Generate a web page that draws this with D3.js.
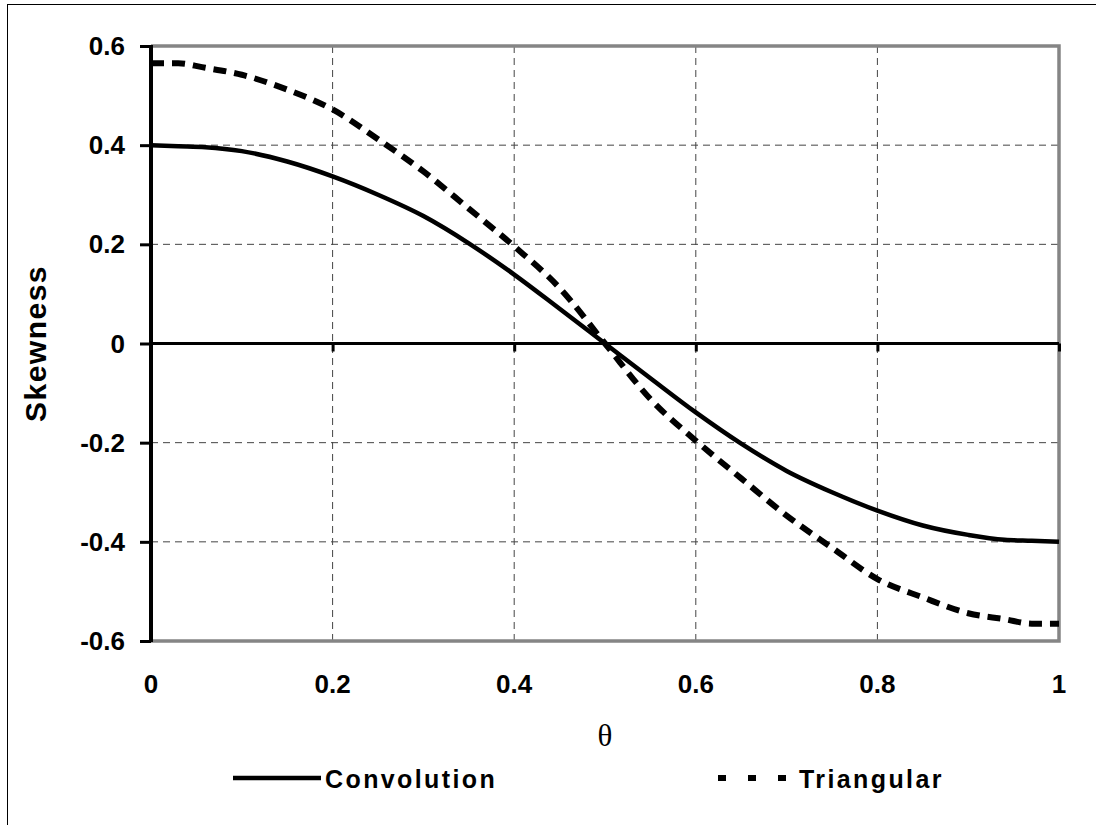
<!DOCTYPE html>
<html>
<head>
<meta charset="utf-8">
<script src="https://cdn.jsdelivr.net/npm/d3@7"></script>
<style>
  body { margin: 0; background: #fff; }
  svg { display: block; }
  .tick-label { font-family: "Liberation Sans", Arial, sans-serif; font-weight: bold; font-size: 26px; fill: #000; }
  .legend-label { font-family: "Liberation Sans", Arial, sans-serif; font-weight: bold; font-size: 25px; letter-spacing: 2.4px; fill: #000; }
</style>
</head>
<body>
<div id="chart"></div>
<script>
// values
const theta = [0, 0.03, 0.06, 0.1, 0.15, 0.2, 0.25, 0.3, 0.35, 0.4, 0.45, 0.5,
               0.55, 0.6, 0.65, 0.7, 0.75, 0.8, 0.85, 0.9, 0.94, 0.97, 1]
const convolution = [0.400, 0.398, 0.396, 0.388, 0.367, 0.337, 0.300, 0.257, 0.202, 0.139, 0.070, 0.000,
                     -0.070, -0.139, -0.202, -0.257, -0.300, -0.337, -0.367, -0.386, -0.396, -0.398, -0.400]
const triangular = [0.565, 0.565, 0.556, 0.542, 0.512, 0.472, 0.412, 0.347, 0.272, 0.196, 0.112, 0.000,
                    -0.112, -0.196, -0.272, -0.347, -0.412, -0.475, -0.512, -0.544, -0.556, -0.565, -0.565]
const xTicks = [0, 0.2, 0.4, 0.6, 0.8, 1]
const yTicks = [0.6, 0.4, 0.2, 0, -0.2, -0.4, -0.6]
const xTickLabels = ['0', '0.2', '0.4', '0.6', '0.8', '1']
const yTickLabels = ['0.6', '0.4', '0.2', '0', '-0.2', '-0.4', '-0.6']
const seriesNames = ['Convolution', 'Triangular']

const width = 1096, height = 825
const margin = {top: 46, right: 37, bottom: 184, left: 151}
const chartWidth = width - margin.left - margin.right
const chartHeight = height - margin.top - margin.bottom

const svg = d3.select('#chart').append('svg')
    .attr('width', width)
    .attr('height', height)

// outer frame
svg.append('rect')
    .attr('x', 7.5).attr('y', 4.5)
    .attr('width', 1100).attr('height', 900)
    .attr('fill', 'none')
    .attr('stroke', '#000')
    .attr('stroke-width', 1)

const x = d3.scaleLinear().domain([0, 1]).range([0, chartWidth])
const y = d3.scaleLinear().domain([-0.6, 0.6]).range([chartHeight, 0])

const g = svg.append('g')
    .attr('transform', 'translate(' + margin.left + ',' + margin.top + ')')

// grid
g.selectAll('line.hgrid')
    .data(yTicks.filter(function(d){ return d !== 0 && Math.abs(d) !== 0.6 }))
    .enter().append('line')
    .attr('class', 'hgrid')
    .attr('x1', 0).attr('x2', chartWidth)
    .attr('y1', function(d){ return y(d) }).attr('y2', function(d){ return y(d) })
    .attr('stroke', '#444').attr('stroke-width', 1)
    .attr('stroke-dasharray', '7,5')

g.selectAll('line.vgrid')
    .data(xTicks.filter(function(d){ return d !== 0 && d !== 1 }))
    .enter().append('line')
    .attr('class', 'vgrid')
    .attr('y1', 0).attr('y2', chartHeight)
    .attr('x1', function(d){ return x(d) }).attr('x2', function(d){ return x(d) })
    .attr('stroke', '#444').attr('stroke-width', 1)
    .attr('stroke-dasharray', '7,5')

// gray plot border (top, right, bottom)
g.append('path')
    .attr('d', 'M0,0H' + chartWidth + 'V' + chartHeight + 'H0')
    .attr('fill', 'none')
    .attr('stroke', '#858585')
    .attr('stroke-width', 3.5)

// y axis
const yAxis = g.append('g')
    .call(d3.axisLeft(y).tickValues(yTicks).tickSize(11).tickFormat(''))
yAxis.select('.domain').remove()
yAxis.selectAll('.tick line').attr('stroke', '#000').attr('stroke-width', 3)
g.append('line')
    .attr('x1', 0).attr('x2', 0)
    .attr('y1', -1).attr('y2', chartHeight + 1)
    .attr('stroke', '#000').attr('stroke-width', 4)

g.selectAll('text.ylab')
    .data(yTicks)
    .enter().append('text')
    .attr('class', 'tick-label')
    .attr('x', -26)
    .attr('y', function(d){ return y(d) + 9 })
    .attr('text-anchor', 'end')
    .text(function(d, i){ return yTickLabels[i] })

// x axis on the zero line
const xAxis = g.append('g')
    .attr('transform', 'translate(0,' + y(0) + ')')
    .call(d3.axisBottom(x).tickValues(xTicks).tickSize(8).tickFormat(''))
xAxis.select('.domain').remove()
xAxis.selectAll('.tick line').attr('stroke', '#000').attr('stroke-width', 3)
g.append('line')
    .attr('x1', 0).attr('x2', chartWidth)
    .attr('y1', y(0)).attr('y2', y(0))
    .attr('stroke', '#000').attr('stroke-width', 3)

g.selectAll('text.xlab')
    .data(xTicks)
    .enter().append('text')
    .attr('class', 'tick-label')
    .attr('x', function(d){ return x(d) })
    .attr('y', chartHeight + 52)
    .attr('text-anchor', 'middle')
    .text(function(d, i){ return xTickLabels[i] })

// axis titles
svg.append('text')
    .attr('x', margin.left + chartWidth / 2)
    .attr('y', 746)
    .attr('text-anchor', 'middle')
    .style('font-family', '"Liberation Serif", "Times New Roman", serif')
    .style('font-size', '31px')
    .text('θ')

svg.append('text')
    .attr('transform', 'translate(46,' + (margin.top + chartHeight / 2) + ') rotate(-90)')
    .attr('text-anchor', 'middle')
    .style('font-family', '"Liberation Sans", Arial, sans-serif')
    .style('font-weight', 'bold')
    .style('font-size', '30px')
    .style('letter-spacing', '1.5px')
    .text('Skewness')

// series
const line = d3.line()
    .x(function(d){ return x(d[0]) })
    .y(function(d){ return y(d[1]) })
    .curve(d3.curveMonotoneX)

g.append('path')
    .datum(theta.map(function(t, i){ return [t, convolution[i]] }))
    .attr('d', line)
    .attr('fill', 'none')
    .attr('stroke', '#000')
    .attr('stroke-width', 4.5)

g.append('path')
    .datum(theta.map(function(t, i){ return [t, triangular[i]] }))
    .attr('d', line)
    .attr('fill', 'none')
    .attr('stroke', '#000')
    .attr('stroke-width', 6)
    .attr('stroke-dasharray', '13,8')

// legend
const legend = svg.append('g')
legend.append('line')
    .attr('x1', 233).attr('x2', 321)
    .attr('y1', 778).attr('y2', 778)
    .attr('stroke', '#000').attr('stroke-width', 4.5)
legend.append('text')
    .attr('class', 'legend-label')
    .attr('x', 325).attr('y', 788)
    .text(seriesNames[0])

legend.append('line')
    .attr('x1', 718).attr('x2', 786)
    .attr('y1', 778).attr('y2', 778)
    .attr('stroke', '#000').attr('stroke-width', 6)
    .attr('stroke-dasharray', '8,22')
legend.append('text')
    .attr('class', 'legend-label')
    .attr('x', 799).attr('y', 788)
    .text(seriesNames[1])
</script>
</body>
</html>
